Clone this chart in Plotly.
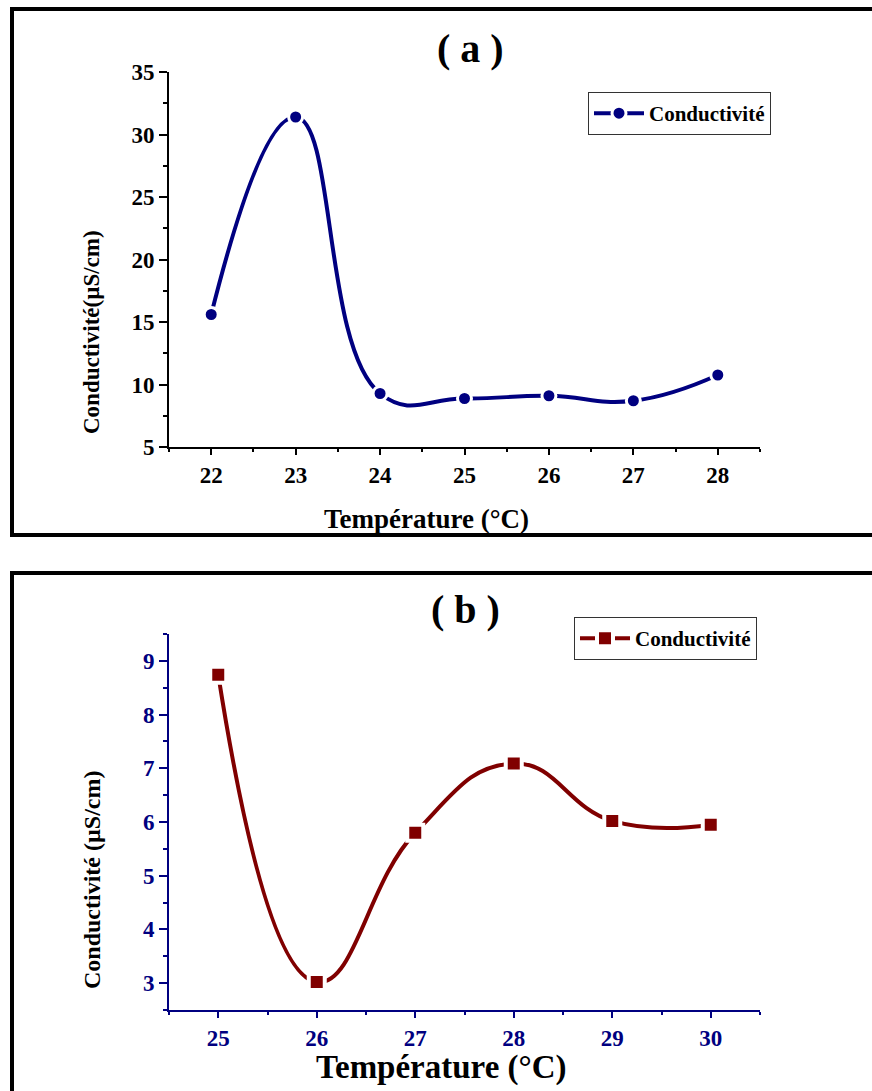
import plotly.graph_objects as go

# Panel (a)
temp_a = [22, 23, 24, 25, 26, 27, 28]
cond_a = [15.6, 31.4, 9.28, 8.88, 9.1, 8.7, 10.76]

# Panel (b)
temp_b = [25, 26, 27, 28, 29, 30]
cond_b = [8.74, 3.02, 5.8, 7.09, 6.02, 5.95]

W, H = 872, 1091
SERIF = "Liberation Serif, Times New Roman, serif"
NAVY = "#000080"
DARKRED = "#800000"


def px(x):
    return x / W


def py(y):
    return 1 - y / H


fig = go.Figure()

fig.add_trace(go.Scatter(
    x=temp_a, y=cond_a, name="Conductivité", mode="lines+markers",
    line=dict(color=NAVY, width=4, shape="spline", smoothing=1.3),
    marker=dict(symbol="circle", size=14, color=NAVY,
                line=dict(color="white", width=3)),
    xaxis="x", yaxis="y", legend="legend",
))

fig.add_trace(go.Scatter(
    x=temp_b, y=cond_b, name="Conductivité", mode="lines+markers",
    line=dict(color=DARKRED, width=4, shape="spline", smoothing=1.3),
    marker=dict(symbol="square", size=16, color=DARKRED,
                line=dict(color="white", width=4)),
    xaxis="x2", yaxis="y2", legend="legend2",
))


def axis_style(color, rng, dtick, minor, domain, anchor, ticklen, tick0):
    return dict(
        range=rng, domain=domain, anchor=anchor, dtick=dtick, tick0=tick0,
        automargin=False,
        showgrid=False, zeroline=False, showline=True, linecolor=color,
        linewidth=2, ticks="outside", ticklen=ticklen, tickwidth=2,
        tickcolor=color,
        tickfont=dict(family=SERIF, size=23, color=color, weight="bold"),
        minor=dict(dtick=minor, ticks="outside", ticklen=ticklen // 2,
                   tickwidth=2, tickcolor=color, showgrid=False),
    )


def legend_style(x, y):
    return dict(x=px(x), y=py(y), xanchor="left", yanchor="top",
                bordercolor="#333333", borderwidth=1, bgcolor="white",
                font=dict(family=SERIF, size=21, color="black", weight="bold"),
                itemwidth=50, tracegroupgap=0)


xdom = [px(169), px(760)]
fig.update_layout(
    width=W, height=H,
    margin=dict(l=0, r=0, t=0, b=0, pad=0, autoexpand=False),
    paper_bgcolor="white", plot_bgcolor="white",
    xaxis=axis_style("black", [21.5, 28.5], 1, 0.5, xdom, "y", 6, 22),
    yaxis=axis_style("black", [5, 35], 5, 2.5, [py(447), py(72)], "x", 8, 5),
    xaxis2=axis_style(NAVY, [24.5, 30.5], 1, 0.5, xdom, "y2", 6, 25),
    yaxis2=axis_style(NAVY, [2.5, 9.5], 1, 0.5, [py(1010), py(634)], "x2", 8, 3),
    legend=legend_style(588, 92),
    legend2=legend_style(574, 617),
    showlegend=True,
)

# Panel frames
fig.add_shape(type="rect", xref="paper", yref="paper",
              x0=px(12), x1=1.05, y0=py(535), y1=py(9),
              line=dict(color="black", width=4), layer="below")
fig.add_shape(type="rect", xref="paper", yref="paper",
              x0=px(12), x1=1.05, y0=-0.05, y1=py(573),
              line=dict(color="black", width=4), layer="below")


def label(text, x, y, size, angle=0):
    fig.add_annotation(text=text, x=px(x), y=py(y), xref="paper", yref="paper",
                       showarrow=False, textangle=angle,
                       xanchor="center", yanchor="middle",
                       font=dict(family=SERIF, size=size, color="black",
                                 weight="bold"))


label("( a )", 470, 48, 40)
label("( b )", 466, 609, 40)
label("Température (°C)", 426, 519, 27)
label("Température (°C)", 441, 1067, 33)
label("Conductivité(µS/cm)", 92, 332, 23, -90)
label("Conductivité (µS/cm)", 92, 880, 24, -90)

fig.write_html("out.html")
